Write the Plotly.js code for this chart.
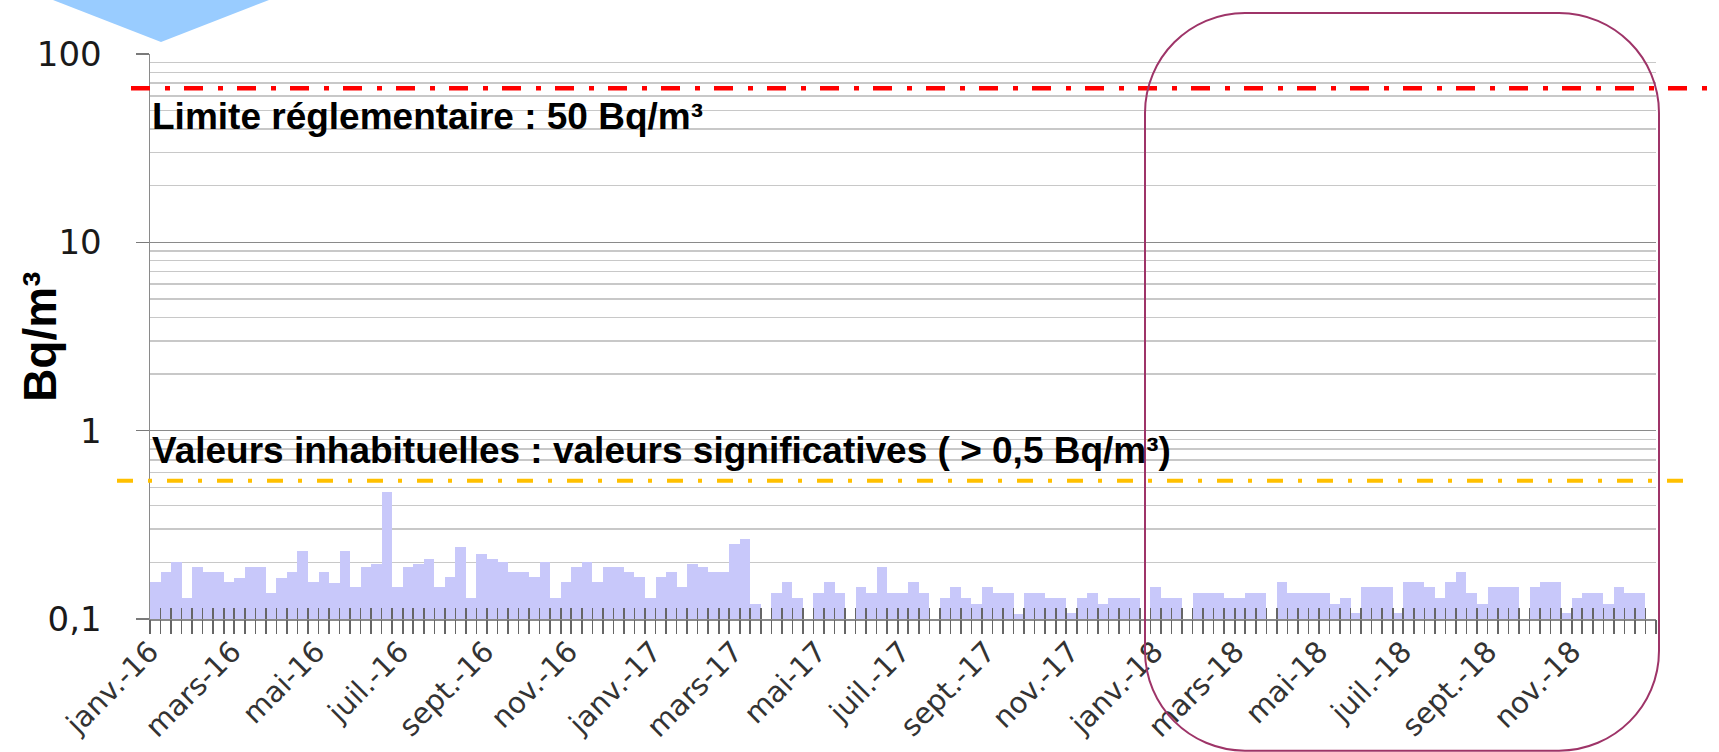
<!DOCTYPE html>
<html>
<head>
<meta charset="utf-8">
<script src="https://cdn.plot.ly/plotly-3.0.1.min.js"></script>
<style>
html, body { margin: 0; padding: 0; background: #ffffff; }
#chart { width: 1719px; height: 752px; }
</style>
</head>
<body>
<div id="chart"></div>
<script>
// ---------- data ----------
const axisStart = '2016-01-01';
const axisEnd = '2019-01-01';

// weekly activity (Bq/m3), one value per sampling period, null = no bar
const concentration = [
  0.157, 0.177, 0.200, 0.130, 0.188, 0.177, 0.177, 0.157, 0.166, 0.188,
  0.188, 0.137, 0.166, 0.177, 0.229, 0.157, 0.177, 0.156, 0.229, 0.148,
  0.188, 0.197, 0.470, 0.148, 0.188, 0.197, 0.208, 0.148, 0.167, 0.241,
  0.130, 0.221, 0.208, 0.200, 0.178, 0.178, 0.167, 0.200, 0.130, 0.157,
  0.188, 0.200, 0.157, 0.188, 0.188, 0.178, 0.167, 0.130, 0.167, 0.177,
  0.148, 0.197, 0.188, 0.178, 0.178, 0.250, 0.267, 0.120, null,  0.137,
  0.157, 0.130, null,  0.137, 0.157, 0.137, null,  0.148, 0.137, 0.188,
  0.137, 0.137, 0.157, 0.137, null,  0.130, 0.148, 0.130, 0.120, 0.148,
  0.137, 0.137, 0.106, 0.137, 0.137, 0.130, 0.130, 0.107, 0.130, 0.137,
  0.120, 0.130, 0.130, 0.130, null,  0.148, 0.130, 0.130, null,  0.137,
  0.137, 0.137, 0.130, 0.130, 0.137, 0.137, null,  0.157, 0.137, 0.137,
  0.137, 0.137, 0.120, 0.130, 0.107, 0.148, 0.148, 0.148, 0.107, 0.157,
  0.157, 0.148, 0.130, 0.157, 0.177, 0.137, 0.120, 0.148, 0.148, 0.148,
  null,  0.148, 0.157, 0.157, 0.107, 0.130, 0.137, 0.137, 0.120, 0.148,
  0.137, 0.137, null
];

const monthTickDates = [
  '2016-01-01', '2016-03-01', '2016-05-01', '2016-07-01', '2016-09-01', '2016-11-01',
  '2017-01-01', '2017-03-01', '2017-05-01', '2017-07-01', '2017-09-01', '2017-11-01',
  '2018-01-01', '2018-03-01', '2018-05-01', '2018-07-01', '2018-09-01', '2018-11-01'
];
const monthTickLabels = [
  'janv.-16', 'mars-16', 'mai-16', 'juil.-16', 'sept.-16', 'nov.-16',
  'janv.-17', 'mars-17', 'mai-17', 'juil.-17', 'sept.-17', 'nov.-17',
  'janv.-18', 'mars-18', 'mai-18', 'juil.-18', 'sept.-18', 'nov.-18'
];

const yTickValues = [0.1, 1, 10, 100];
const yTickLabels = ['0,1', '1', '10', '100'];
const yMinorGridValues = [
  0.2, 0.3, 0.4, 0.5, 0.6, 0.7, 0.8, 0.9,
  2, 3, 4, 5, 6, 7, 8, 9,
  20, 30, 40, 50, 60, 70, 80, 90
];
const yAxisTitle = 'Bq/m³';

// reference lines as drawn on the picture
const thresholdLabels = ['Limite réglementaire : 50 Bq/m³',
                         'Valeurs inhabituelles : valeurs significatives ( > 0,5 Bq/m³)'];
const thresholdLevels = [65.8, 0.542];
const thresholdColors = ['#ff0000', '#ffc000'];

// ---------- build ----------
const t0 = Date.parse(axisStart + 'T00:00:00Z');
const t1 = Date.parse(axisEnd + 'T00:00:00Z');
const period = Math.round((t1 - t0) / concentration.length);
function fmt(ms) { return new Date(ms).toISOString().replace('T', ' ').slice(0, 19); }
const sampleDates = concentration.map((v, i) => fmt(t0 + (i + 0.5) * period));

const bars = {
  type: 'bar',
  x: sampleDates,
  y: concentration,
  width: period,
  marker: { color: '#c8c8fa', line: { width: 0 } },
  hoverinfo: 'x+y',
  showlegend: false
};
const dummy2 = { type: 'scatter', mode: 'none', x: [], y: [], xaxis: 'x2', yaxis: 'y', showlegend: false, hoverinfo: 'skip' };
const dummy3 = { type: 'scatter', mode: 'none', x: [], y: [], xaxis: 'x3', yaxis: 'y', showlegend: false, hoverinfo: 'skip' };

const L = 150, R = 1656, T = 54, B = 619.3;
const PW = R - L, PH = B - T;
const px = v => (v - L) / PW;      // pixel -> paper (decorations only)
const py = v => (B - v) / PH;

const crossTicks = {
  type: 'date', range: [axisStart, axisEnd], overlaying: 'x', anchor: 'y', side: 'bottom',
  tickmode: 'linear', tick0: axisStart, dtick: period,
  tickwidth: 1.6, tickcolor: '#666666',
  showticklabels: false, showgrid: false, showline: false, zeroline: false, fixedrange: true
};

// rounded rectangle path (cubic corners)
const rx0 = px(1145), rx1 = px(1659), ryt = py(13), ryb = py(751);
const rr = 100, rdx = rr / PW, rdy = rr / PH, k = 0.448;
const roundPath =
  `M ${rx0 + rdx},${ryt} L ${rx1 - rdx},${ryt} ` +
  `C ${rx1 - rdx * k},${ryt} ${rx1},${ryt - rdy * k} ${rx1},${ryt - rdy} ` +
  `L ${rx1},${ryb + rdy} ` +
  `C ${rx1},${ryb + rdy * k} ${rx1 - rdx * k},${ryb} ${rx1 - rdx},${ryb} ` +
  `L ${rx0 + rdx},${ryb} ` +
  `C ${rx0 + rdx * k},${ryb} ${rx0},${ryb + rdy * k} ${rx0},${ryb + rdy} ` +
  `L ${rx0},${ryt - rdy} ` +
  `C ${rx0},${ryt - rdy * k} ${rx0 + rdx * k},${ryt} ${rx0 + rdx},${ryt} Z`;

const layout = {
  width: 1719, height: 752,
  margin: { l: L, r: 1719 - R, t: T, b: 752 - B, pad: 0 },
  paper_bgcolor: '#ffffff', plot_bgcolor: '#ffffff',
  bargap: 0,
  xaxis: {
    type: 'date', range: [axisStart, axisEnd],
    tickmode: 'array', tickvals: monthTickDates, ticktext: monthTickLabels,
    tickangle: -45, ticks: '',
    tickfont: { family: 'DejaVu Sans, Verdana, sans-serif', size: 29, color: '#333333' },
    ticklabelstandoff: 2,
    showgrid: false, showline: true, linecolor: '#8a8a8a', linewidth: 2,
    zeroline: false, fixedrange: true
  },
  xaxis2: Object.assign({}, crossTicks, { ticks: 'outside', ticklen: 14 }),
  xaxis3: Object.assign({}, crossTicks, { ticks: 'inside', ticklen: 11 }),
  yaxis: {
    type: 'log', range: [-1, 2],
    tickmode: 'array', tickvals: yTickValues, ticktext: yTickLabels,
    ticks: 'outside', ticklen: 13, tickwidth: 1.5, tickcolor: '#7a7a7a',
    tickfont: { family: 'DejaVu Sans, Verdana, sans-serif', size: 34, color: '#1a1a1a' },
    ticklabelstandoff: 27,
    showgrid: true, gridcolor: '#8a8a8a', gridwidth: 1.5,
    minor: { tickmode: 'array', tickvals: yMinorGridValues, showgrid: true,
             gridcolor: '#c8c8c8', gridwidth: 1.5, ticks: '' },
    showline: true, linecolor: '#8a8a8a', linewidth: 1.5,
    zeroline: false, fixedrange: true
  },
  shapes: [
    { type: 'path', xref: 'paper', yref: 'paper',
      path: `M ${px(53)},${py(0)} L ${px(269)},${py(0)} L ${px(161)},${py(42)} Z`,
      fillcolor: '#99ccff', line: { width: 0 } },
    { type: 'line', xref: 'paper', yref: 'y', x0: px(131), x1: px(1708),
      y0: thresholdLevels[0], y1: thresholdLevels[0],
      line: { color: thresholdColors[0], width: 4.5, dash: '19px,15px,5px,14px' } },
    { type: 'line', xref: 'paper', yref: 'y', x0: px(117), x1: px(1694),
      y0: thresholdLevels[1], y1: thresholdLevels[1],
      line: { color: thresholdColors[1], width: 4, dash: '16px,15px,4px,15px' } },
    { type: 'path', xref: 'paper', yref: 'paper', path: roundPath,
      fillcolor: 'rgba(0,0,0,0)', line: { color: '#9e3468', width: 2 } }
  ],
  annotations: [
    { xref: 'paper', yref: 'paper', x: 0, y: py(117), xanchor: 'left', yanchor: 'middle',
      text: '<b>' + thresholdLabels[0] + '</b>', showarrow: false,
      font: { family: 'Liberation Sans, Arial, sans-serif', size: 37, color: '#000000' } },
    { xref: 'paper', yref: 'paper', x: 0, y: py(451), xanchor: 'left', yanchor: 'middle',
      text: '<b>' + thresholdLabels[1] + '</b>', showarrow: false,
      font: { family: 'Liberation Sans, Arial, sans-serif', size: 37, color: '#000000' } },
    { xref: 'paper', yref: 'paper', x: px(40), y: py(337), xanchor: 'center', yanchor: 'middle',
      text: '<b>' + yAxisTitle + '</b>', textangle: -90, showarrow: false,
      font: { family: 'Liberation Sans, Arial, sans-serif', size: 46, color: '#000000' } }
  ]
};

Plotly.newPlot('chart', [bars, dummy2, dummy3], layout, { staticPlot: true, displayModeBar: false });
</script>
</body>
</html>
